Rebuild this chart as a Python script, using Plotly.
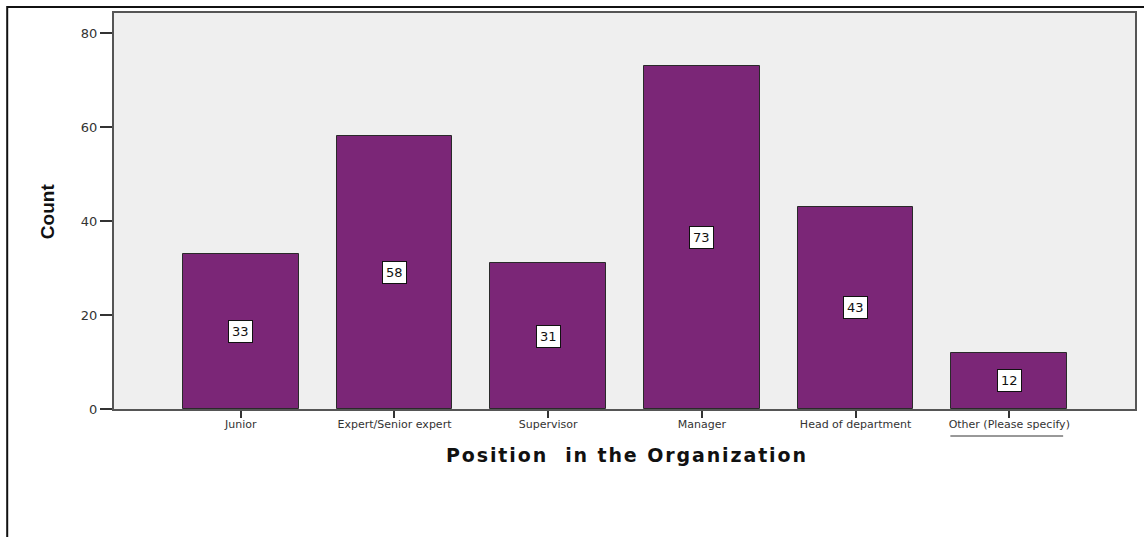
import plotly.graph_objects as go

# Position counts
categories = ["Junior", "Expert/Senior expert", "Supervisor", "Manager",
              "Head of department", "Other (Please specify)"]
counts = [33, 58, 31, 73, 43, 12]
y_ticks = [0, 20, 40, 60, 80]
x_title = "Position  in the Organization"
y_title = "Count"

W, H = 1144, 537
ML, MR, MT, MB = 114, 7, 13, 128
PW, PH = W - ML - MR, H - MT - MB


def px_x(p):
    return (p - ML) / PW


def px_y(p):
    return (H - MB - p) / PH


def spaced(s):
    # widen the tracking of a title with hair spaces between letters
    return "\u200a".join(s)


bar_color = "#7b2677"

fig = go.Figure()
fig.add_trace(go.Bar(
    x=list(range(len(categories))),
    y=counts,
    width=0.753,
    marker=dict(color=bar_color, line=dict(color="#2a2a2a", width=1)),
    hoverinfo="skip",
))

# Value boxes at the middle of each bar
for i, v in enumerate(counts):
    fig.add_annotation(
        x=i, y=v / 2, xref="x", yref="y", text=str(v), showarrow=False,
        font=dict(family="DejaVu Sans", size=13, color="#111111"),
        bgcolor="white", bordercolor="#111111", borderwidth=1, borderpad=3,
    )

# Axis titles
fig.add_annotation(
    x=px_x(627), y=px_y(455), xref="paper", yref="paper",
    xanchor="center", yanchor="middle",
    text="<b>" + spaced(x_title) + "</b>", showarrow=False,
    font=dict(family="DejaVu Sans", size=19, color="#111111"),
)
fig.add_annotation(
    x=px_x(47), y=px_y(211), xref="paper", yref="paper",
    xanchor="center", yanchor="middle",
    text="<b>" + y_title + "</b>", showarrow=False, textangle=-90,
    font=dict(family="Liberation Sans Narrow, Liberation Sans", size=19, color="#111111"),
)

# Outer frame and the rule below the last category label
fig.add_shape(type="rect", xref="paper", yref="paper",
              x0=px_x(7), x1=px_x(1160), y0=px_y(560), y1=px_y(7),
              line=dict(color="#111111", width=2), fillcolor="rgba(0,0,0,0)")
fig.add_shape(type="line", xref="paper", yref="paper",
              x0=px_x(952), x1=px_x(1065), y0=px_y(436), y1=px_y(436),
              line=dict(color="#333333", width=1))

fig.update_layout(
    width=W, height=H,
    margin=dict(l=ML, r=MR, t=MT, b=MB),
    paper_bgcolor="white",
    plot_bgcolor="#efefef",
    showlegend=False,
    bargap=0,
    xaxis=dict(
        range=[-0.825, 5.818],
        tickmode="array",
        tickvals=list(range(len(categories))),
        ticktext=categories,
        ticks="outside", ticklen=7, tickcolor="#333333", tickwidth=1.5,
        ticklabelstandoff=-3,
        tickfont=dict(family="DejaVu Sans", size=11, color="#333333"),
        showgrid=False, zeroline=False,
        showline=True, linecolor="#555555", linewidth=2, mirror=True,
    ),
    yaxis=dict(
        range=[0, 84.25],
        tickmode="array",
        tickvals=y_ticks,
        ticks="outside", ticklen=12, tickcolor="#333333", tickwidth=1.5,
        tickfont=dict(family="DejaVu Sans", size=13, color="#333333"),
        showgrid=False, zeroline=False,
        showline=True, linecolor="#555555", linewidth=2, mirror=True,
    ),
)

fig.write_html("out.html")
